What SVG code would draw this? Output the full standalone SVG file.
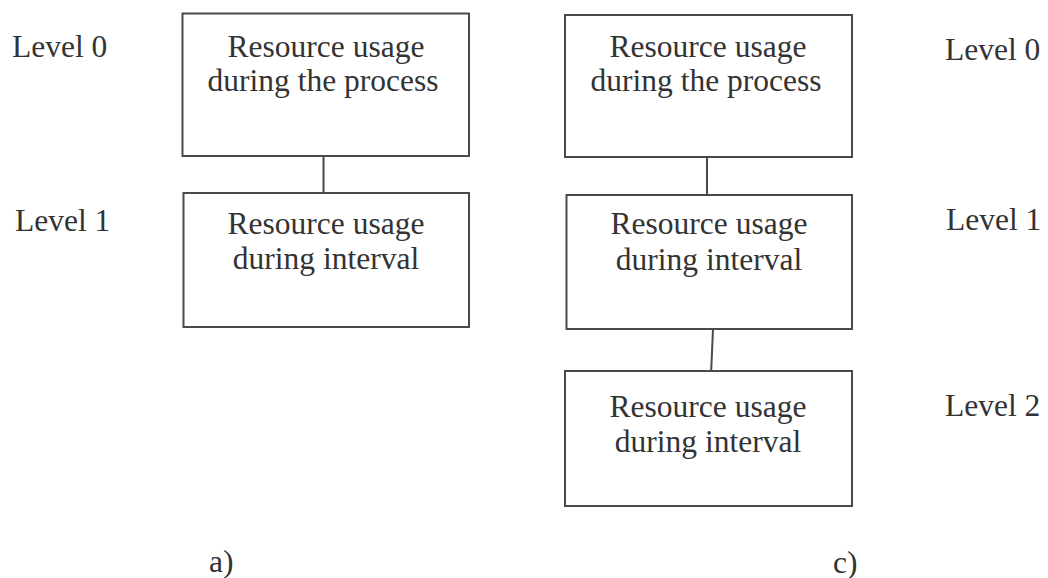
<svg xmlns="http://www.w3.org/2000/svg" width="1048" height="578" viewBox="0 0 1048 578">
  <style>
    .box { fill: #ffffff; stroke: #4a4a4a; stroke-width: 2; }
    .link { fill: none; stroke: #4a4a4a; stroke-width: 2; }
    text { font-family: "Liberation Serif", "Times New Roman", serif; font-size: 31.5px; fill: #333333; }
    .mid { text-anchor: middle; }
  </style>
  <rect width="1048" height="578" fill="#ffffff"/>

  <!-- connectors -->
  <g id="connectors">
    <line class="link" x1="323.5" y1="156" x2="323.5" y2="193"/>
    <line class="link" x1="707" y1="157" x2="707" y2="195"/>
    <line class="link" x1="713" y1="329" x2="711" y2="375"/>
  </g>

  <!-- hierarchy a) -->
  <g id="a-level0">
    <rect class="box" x="182.5" y="13.5" width="286.5" height="142.5"/>
    <text class="mid" x="326" y="57">Resource usage</text>
    <text class="mid" x="323" y="91">during the process</text>
  </g>
  <g id="a-level1">
    <rect class="box" x="183.5" y="193" width="285.5" height="134"/>
    <text class="mid" x="326" y="234">Resource usage</text>
    <text class="mid" x="326" y="269">during interval</text>
  </g>

  <!-- hierarchy c) -->
  <g id="c-level0">
    <rect class="box" x="565" y="15" width="287" height="142"/>
    <text class="mid" x="708" y="57">Resource usage</text>
    <text class="mid" x="706" y="91">during the process</text>
  </g>
  <g id="c-level1">
    <rect class="box" x="566.5" y="195" width="285.5" height="134"/>
    <text class="mid" x="709" y="234">Resource usage</text>
    <text class="mid" x="709" y="270">during interval</text>
  </g>
  <g id="c-level2">
    <rect class="box" x="565" y="371" width="287" height="135"/>
    <text class="mid" x="708" y="417">Resource usage</text>
    <text class="mid" x="708" y="452">during interval</text>
  </g>

  <!-- level labels -->
  <g id="labels">
    <text x="12" y="57">Level 0</text>
    <text x="15" y="231">Level 1</text>
    <text x="945" y="60">Level 0</text>
    <text x="946" y="230">Level 1</text>
    <text x="945" y="416">Level 2</text>
    <text x="209" y="572">a)</text>
    <text x="833" y="573">c)</text>
  </g>
</svg>
